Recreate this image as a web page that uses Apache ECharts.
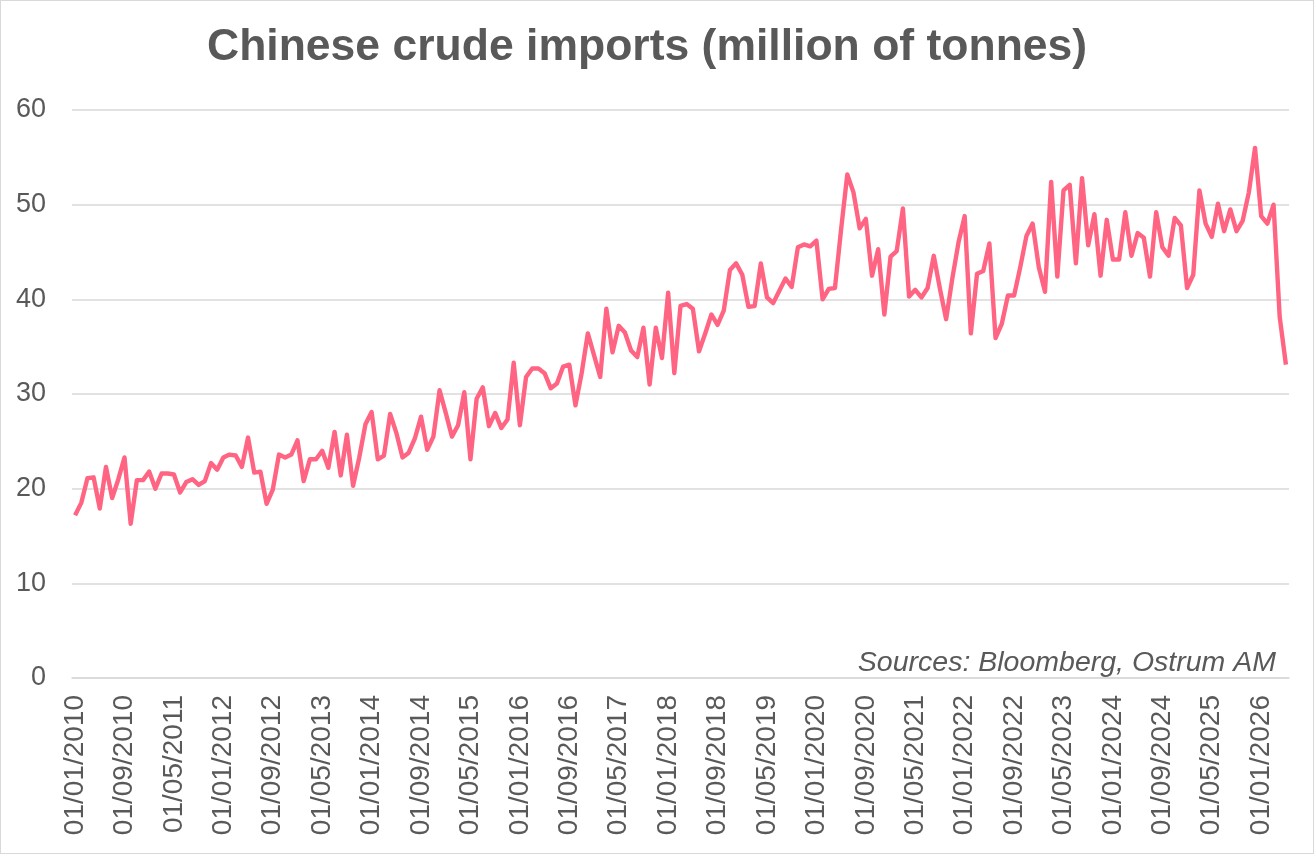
<!DOCTYPE html>
<html>
<head>
<meta charset="utf-8">
<script src="https://cdn.jsdelivr.net/npm/echarts@6/dist/echarts.min.js"></script>
<style>
    html, body { margin: 0; padding: 0; background: #ffffff; }
    #chart { position: absolute; left: 0; top: 0; width: 1314px; height: 854px; box-sizing: border-box; border: 1px solid #d9d9d9; }
</style>
</head>
<body>
<div id="chart"></div>
<script>
// Monthly imports, Jan 2010 -> May 2026 (million tonnes)
const imports_2010_2013 = [
    17.2, 18.5, 21.1, 21.2, 17.9, 22.3, 19.0, 21.0, 23.3, 16.3, 20.9, 20.9,
    21.8, 20.0, 21.6, 21.6, 21.5, 19.6, 20.7, 21.0, 20.4, 20.8, 22.7, 22.0,
    23.3, 23.6, 23.5, 22.3, 25.4, 21.7, 21.8, 18.4, 19.9, 23.6, 23.3, 23.6,
    25.1, 20.8, 23.1, 23.1, 24.0, 22.2, 26.0, 21.4, 25.7, 20.3, 23.3, 26.8
];
const imports_2014_2017 = [
    28.1, 23.1, 23.5, 27.9, 25.9, 23.3, 23.8, 25.3, 27.6, 24.1, 25.5, 30.4,
    28.0, 25.5, 26.7, 30.2, 23.1, 29.5, 30.7, 26.6, 28.0, 26.4, 27.3, 33.3,
    26.7, 31.8, 32.7, 32.7, 32.2, 30.6, 31.1, 32.9, 33.1, 28.8, 32.2, 36.4,
    34.1, 31.8, 39.0, 34.4, 37.2, 36.5, 34.6, 33.9, 37.0, 31.0, 37.0, 33.8
];
const imports_2018_2021 = [
    40.7, 32.2, 39.3, 39.5, 39.0, 34.5, 36.4, 38.4, 37.3, 38.8, 43.1, 43.8,
    42.6, 39.2, 39.3, 43.8, 40.2, 39.6, 40.9, 42.2, 41.3, 45.5, 45.8, 45.6,
    46.2, 40.0, 41.1, 41.2, 47.4, 53.2, 51.3, 47.5, 48.5, 42.5, 45.3, 38.4,
    44.5, 45.1, 49.6, 40.3, 41.0, 40.2, 41.2, 44.6, 41.1, 37.9, 42.2, 46.0
];
const imports_2022_2026 = [
    48.8, 36.4, 42.7, 43.0, 45.9, 35.9, 37.4, 40.4, 40.4, 43.4, 46.7, 48.0,
    43.4, 40.8, 52.4, 42.4, 51.5, 52.1, 43.8, 52.8, 45.7, 49.0, 42.5, 48.4,
    44.2, 44.2, 49.2, 44.6, 47.0, 46.5, 42.4, 49.2, 45.5, 44.6, 48.6, 47.8,
    41.2, 42.6, 51.5, 48.0, 46.6, 50.1, 47.2, 49.5, 47.2, 48.3, 51.3, 56.0,
    48.8, 48.0, 50.0, 38.1, 33.1
];
const imports = [].concat(imports_2010_2013, imports_2014_2017, imports_2018_2021, imports_2022_2026);

// first of each month, dd/mm/yyyy
const months = [];
for (let i = 0; i < imports.length; i++) {
    let m = i % 12 + 1;
    let y = 2010 + Math.floor(i / 12);
    months.push('01/' + (m < 10 ? '0' + m : m) + '/' + y);
}

const TEXT_COLOR = '#595959';
const GRID_COLOR = '#d9d9d9';
const LINE_COLOR = '#ff6482';
const FONT = '"Liberation Sans", Arial, sans-serif';

let chart = echarts.init(document.getElementById('chart'));
chart.setOption({
    animation: false,
    title: [
        {
            text: 'Chinese crude imports (million of tonnes)',
            left: 201,
            top: 19,
            textStyle: { color: TEXT_COLOR, fontFamily: FONT, fontSize: 44.5, fontWeight: 'bold' }
        },
        {
            text: 'Sources: Bloomberg, Ostrum AM',
            right: 32,
            top: 643,
            textStyle: { color: TEXT_COLOR, fontFamily: FONT, fontSize: 28.5, fontWeight: 'normal', fontStyle: 'italic' }
        }
    ],
    grid: {
        left: 71,
        right: 24,
        top: 109,
        bottom: 175,
        containLabel: false
    },
    xAxis: {
        type: 'category',
        boundaryGap: true,
        data: months,
        axisLine: { lineStyle: { color: GRID_COLOR, width: 1.5 } },
        axisTick: { interval: 7, length: 7, lineStyle: { color: GRID_COLOR, width: 1.5 } },
        axisLabel: {
            interval: 7,
            rotate: 90,
            margin: 17,
            color: TEXT_COLOR,
            fontFamily: FONT,
            fontSize: 28
        }
    },
    yAxis: {
        type: 'value',
        min: 0,
        max: 60,
        interval: 10,
        axisLine: { show: false },
        axisTick: { show: false },
        axisLabel: { margin: 26, color: TEXT_COLOR, fontFamily: FONT, fontSize: 27 },
        splitLine: { lineStyle: { color: GRID_COLOR, width: 1.5 } }
    },
    series: [
        {
            name: 'Chinese crude imports',
            type: 'line',
            data: imports,
            showSymbol: false,
            lineStyle: { color: LINE_COLOR, width: 4.4, join: 'round' },
            itemStyle: { color: LINE_COLOR }
        }
    ]
});
</script>
</body>
</html>
